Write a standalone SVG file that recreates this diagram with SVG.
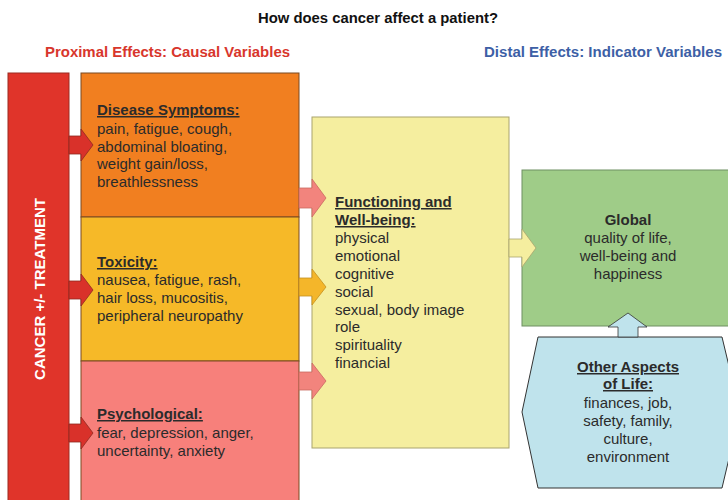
<svg xmlns="http://www.w3.org/2000/svg" width="728" height="500" viewBox="0 0 728 500">
<style>
text{font-family:"Liberation Sans",Arial,sans-serif;fill:#2b2b2b}
.t{font-size:15px}
.h{font-size:15px;font-weight:bold;text-decoration:underline}
.c{text-anchor:middle}
</style>
<rect width="728" height="500" fill="#ffffff"/>
<text x="378" y="23" class="c" style="font-size:14px;font-weight:bold;fill:#111" textLength="240" lengthAdjust="spacingAndGlyphs">How does cancer affect a patient?</text>
<text x="45" y="57" style="font-size:14.5px;font-weight:bold;fill:#d8362c" textLength="245" lengthAdjust="spacingAndGlyphs">Proximal Effects: Causal Variables</text>
<text x="484" y="57" style="font-size:14.5px;font-weight:bold;fill:#3d5fa6" textLength="238" lengthAdjust="spacingAndGlyphs">Distal Effects: Indicator Variables</text>

<g id="cancer">
<rect x="8" y="73" width="61" height="440" fill="#e0342a" stroke="#9c2a20"/>
<text transform="translate(45,289) rotate(-90)" class="c" style="font-size:15px;font-weight:bold;fill:#ffffff">CANCER +/- TREATMENT</text>
</g>
<g id="disease">
<rect x="81" y="73" width="218" height="144" fill="#f17f20" stroke="#7a4a22"/>
<text x="97" y="115" class="h">Disease Symptoms:</text>
<text x="97" y="134" class="t">pain, fatigue, cough,</text>
<text x="97" y="152" class="t">abdominal bloating,</text>
<text x="97" y="169" class="t">weight gain/loss,</text>
<text x="97" y="187" class="t">breathlessness</text>
</g>
<g id="toxicity">
<rect x="81" y="217" width="218" height="144" fill="#f6b928" stroke="#7a4a22"/>
<text x="97" y="267" class="h">Toxicity:</text>
<text x="97" y="285" class="t">nausea, fatigue, rash,</text>
<text x="97" y="303" class="t">hair loss, mucositis,</text>
<text x="97" y="321" class="t">peripheral neuropathy</text>
</g>
<g id="psychological">
<rect x="81" y="361" width="218" height="150" fill="#f7807b" stroke="#7a4a22"/>
<text x="97" y="419" class="h">Psychological:</text>
<text x="97" y="438" class="t">fear, depression, anger,</text>
<text x="97" y="456" class="t">uncertainty, anxiety</text>
</g>
<g id="functioning">
<rect x="312" y="117" width="197" height="331" fill="#f5ee9f" stroke="#a9a46e"/>
<text x="335" y="207" class="h">Functioning and</text>
<text x="335" y="225" class="h">Well-being:</text>
<text x="335" y="243" class="t">physical</text>
<text x="335" y="261" class="t">emotional</text>
<text x="335" y="279" class="t">cognitive</text>
<text x="335" y="297" class="t">social</text>
<text x="335" y="315" class="t">sexual, body image</text>
<text x="335" y="332" class="t">role</text>
<text x="335" y="350" class="t">spirituality</text>
<text x="335" y="368" class="t">financial</text>
</g>
<g id="global">
<rect x="522" y="170" width="215" height="156" fill="#9fcc88" stroke="#6f8f62"/>
<text x="628" y="225" class="c" style="font-size:15px;font-weight:bold">Global</text>
<text x="628" y="243" class="c t">quality of life,</text>
<text x="628" y="261" class="c t">well-being and</text>
<text x="628" y="279" class="c t">happiness</text>
</g>
<g id="other">
<polygon points="538,337 722,337 740,412 722,488 538,488 522,412" fill="#bfe3ec" stroke="#333"/>
<text x="628" y="372" class="c h">Other Aspects</text>
<text x="628" y="389" class="c h">of Life:</text>
<text x="628" y="408" class="c t">finances, job,</text>
<text x="628" y="426" class="c t">safety, family,</text>
<text x="628" y="444" class="c t">culture,</text>
<text x="628" y="462" class="c t">environment</text>
</g>
<g id="connectors">
<path d="M69,136 H81 V129 L93,145 L81,161 V154 H69 Z" fill="#d9312a" stroke="#8e2a20" stroke-width="0.8"/>
<path d="M69,281 H81 V274 L93,290 L81,306 V299 H69 Z" fill="#d9312a" stroke="#8e2a20" stroke-width="0.8"/>
<path d="M69,424 H81 V417 L93,433 L81,449 V442 H69 Z" fill="#d9312a" stroke="#8e2a20" stroke-width="0.8"/>
<path d="M299,188 H312 V179 L326,198 L312,217 V208 H299 Z" fill="#f2847d" stroke="#c96a60" stroke-width="0.8"/>
<path d="M299,278 H312 V269 L326,287 L312,305 V296 H299 Z" fill="#f4b62a" stroke="#c48f1e" stroke-width="0.8"/>
<path d="M299,372 H312 V363 L326,381 L312,399 V390 H299 Z" fill="#f2847d" stroke="#c96a60" stroke-width="0.8"/>
<path d="M509,239 H522 V229 L536,248 L522,267 V257 H509 Z" fill="#f5ee9f" stroke="#a9a46e" stroke-width="0.8"/>
<path d="M618,337 V327 H608 L628,313 L647,327 H638 V337 Z" fill="#bfe3ec" stroke="#333" stroke-width="0.8"/>
</g>
</svg>
